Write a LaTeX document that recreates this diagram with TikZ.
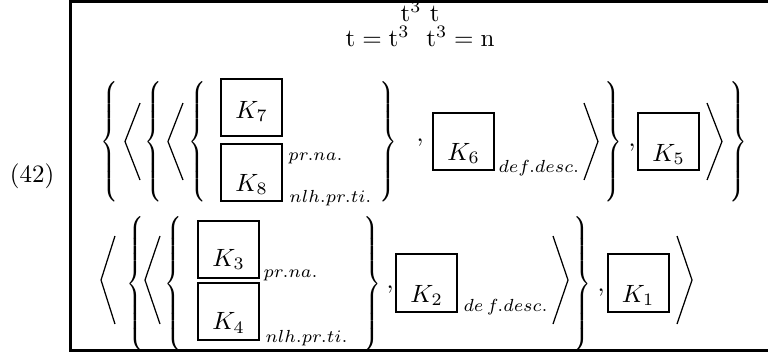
\documentclass[tikz,border=0pt]{standalone}
\usepackage{amsmath,amssymb}
\usepackage{graphicx}
\usepackage{tikz}
\usetikzlibrary{positioning}
\delimiterfactor=1000
\delimitershortfall=0pt
\nulldelimiterspace=0pt
\newcommand{\openbr}[1]{\scalebox{0.8}[1]{$\left\{\vcenter{\hbox{\rule{0pt}{#1}}}\right.$}}
\newcommand{\closebr}[1]{\scalebox{0.8}[1]{$\left.\vcenter{\hbox{\rule{0pt}{#1}}}\right\}$}}

\begin{document}
\begin{tikzpicture}[
  kbox/.style={draw,line width=0.8pt,minimum width=24.4pt,minimum height=23pt,inner sep=0pt,text height=#1,text depth=0pt},
  kbox/.default=14.8pt,
  br/.style={inner sep=0pt},
  sub/.style={font=\scriptsize,inner sep=0pt,anchor=base west},
  comma/.style={inner sep=0pt,anchor=base},
  ang/.style={line width=0.5pt}]
\useasboundingbox (0,0) rectangle (10.795,-4.962);
% frame
\draw[line width=1.2pt] (10.85,-0.021) -- (0.984,-0.021) -- (0.984,-4.92) -- (10.85,-4.92);
\node[anchor=base] (t1) at (5.904,-0.309) {$\mathrm{t}^3\ \mathrm{t}$};
\node[anchor=base] (t2) at (5.904,-0.655) {$\mathrm{t}=\mathrm{t}^3\ \ \mathrm{t}^3=\mathrm{n}$};
\node (ex) at (0.45,-2.474) {(42)};
% first line
\node[br] (b1) at (1.532,-1.989) {\openbr{48pt}};
\draw[ang] (1.968,-1.448) -- (1.757,-1.989) -- (1.968,-2.530);
\node[br] (b2) at (2.158,-1.989) {\openbr{48pt}};
\draw[ang] (2.572,-1.448) -- (2.361,-1.989) -- (2.572,-2.530);
\node[br] (b3) at (2.776,-1.989) {\openbr{48pt}};
\node[kbox=8.4pt] (k7) at (3.535,-1.511) {$K_7$};
\node[kbox] (k8) at (3.535,-2.425) {$K_8$};
\node[sub] (pn1) at (4.048,-2.249) {$pr.na.$};
\node[sub] (nl1) at (4.062,-2.853) {$nlh.pr.ti.$};
\node[br] (c3) at (5.461,-1.989) {\closebr{48pt}};
\node[comma] (cm1) at (5.904,-1.982) {,};
\node[kbox] (k6) at (6.515,-1.989) {$K_6$};
\node[sub] (dd1) at (7.0,-2.418) {$def.desc.$};
\draw[ang] (8.209,-1.448) -- (8.405,-1.989) -- (8.209,-2.530);
\node[br] (c2) at (8.616,-1.989) {\closebr{48pt}};
\node[comma] (cm2) at (8.883,-2.052) {,};
\node[kbox=15.6pt] (k5) at (9.397,-1.989) {$K_5$};
\draw[ang] (9.938,-1.448) -- (10.148,-1.989) -- (9.938,-2.530);
\node[br] (c1) at (10.380,-1.989) {\closebr{48pt}};
% second line
\draw[ang] (1.616,-3.317) -- (1.420,-3.936) -- (1.616,-4.554);
\node[br] (d2) at (1.898,-3.985) {\openbr{50pt}};
\draw[ang] (2.249,-3.317) -- (2.038,-3.936) -- (2.249,-4.554);
\node[br] (d3) at (2.439,-3.985) {\openbr{50pt}};
\node[kbox=13.2pt] (k3) at (3.212,-3.507) {$K_3$};
\node[kbox] (k4) at (3.212,-4.378) {$K_4$};
\node[sub] (pn2) at (3.697,-3.894) {$pr.na.$};
\node[sub] (nl2) at (3.725,-4.820) {$nlh.pr.ti.$};
\node[br] (e3) at (5.236,-3.985) {\closebr{50pt}};
\node[comma] (cm3) at (5.482,-4.048) {,};
\node[kbox=15.2pt] (k2) at (5.995,-3.978) {$K_2$};
\node[sub] (dd2) at (6.508,-4.385) {$de\,f.desc.$};
\draw[ang] (7.773,-3.317) -- (7.984,-3.936) -- (7.773,-4.554);
\node[br] (e2) at (8.181,-3.985) {\closebr{50pt}};
\node[comma] (cm4) at (8.448,-4.104) {,};
\node[kbox=15.2pt] (k1) at (8.968,-3.978) {$K_1$};
\draw[ang] (9.516,-3.317) -- (9.727,-3.936) -- (9.516,-4.554);
\end{tikzpicture}
\end{document}
